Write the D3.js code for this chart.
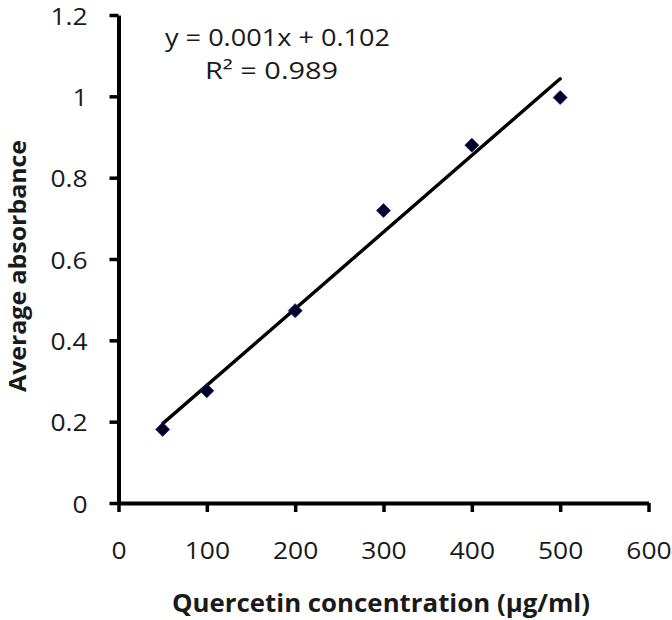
<!DOCTYPE html>
<html><head><meta charset="utf-8">
<script src="https://cdn.jsdelivr.net/npm/d3@7"></script>
<style>html,body{margin:0;padding:0;background:#fff;}svg{display:block;}</style>
</head><body>
<svg id="c" width="672" height="620"></svg>
<script>
const concentrations = [50, 100, 200, 300, 400, 500];
const absorbance = [0.181, 0.276, 0.473, 0.719, 0.880, 0.997];
const xTicks = [0, 100, 200, 300, 400, 500, 600];
const yTicks = [0, 0.2, 0.4, 0.6, 0.8, 1, 1.2];
const xTitle = "Quercetin concentration (µg/ml)";
const yTitle = "Average absorbance";
const eqText = "y = 0.001x + 0.102";
const r2Text = "R² = 0.989";

const font = "'Open Sans', 'DejaVu Sans', sans-serif";
const svg = d3.select("#c");
const x = d3.scaleLinear().domain([0, 600]).range([118.5, 648.5]);
const y = d3.scaleLinear().domain([0, 1.2]).range([503, 15]);

function stretch(sel, factor) {
  sel.each(function () {
    const w = this.getComputedTextLength();
    d3.select(this).attr("textLength", w * factor).attr("lengthAdjust", "spacingAndGlyphs");
  });
}

// axes
const xAxis = d3.axisBottom(x).tickValues(xTicks).tickSize(9).tickSizeOuter(0).tickPadding(30)
  .tickFormat(d3.format("d"));
const yAxis = d3.axisLeft(y).tickValues(yTicks).tickSize(9).tickSizeOuter(0).tickPadding(22)
  .tickFormat(d => d3.format("")(+d.toFixed(1)));

const gx = svg.append("g").attr("transform", `translate(0,${y(0)})`).call(xAxis);
const gy = svg.append("g").attr("transform", `translate(${x(0)},0)`).call(yAxis);
[gx, gy].forEach(g => {
  g.select(".domain").attr("stroke", "#000").attr("stroke-width", 4);
  g.selectAll(".tick line").attr("stroke", "#000").attr("stroke-width", 3.5);
  g.selectAll(".tick text").attr("font-family", font).attr("font-size", 24).attr("fill", "#1a1a1a");
  stretch(g.selectAll(".tick text"), 1.1);
});
gy.selectAll(".tick text").attr("dy", "0.38em");

// trendline (least squares from data)
const mx = d3.mean(concentrations), my = d3.mean(absorbance);
let sxy = 0, sxx = 0;
concentrations.forEach((c, i) => { sxy += (c - mx) * (absorbance[i] - my); sxx += (c - mx) ** 2; });
const slope = sxy / sxx, intercept = my - slope * mx;
const x0 = d3.min(concentrations), x1 = d3.max(concentrations);
svg.append("line")
  .attr("x1", x(x0)).attr("y1", y(intercept + slope * x0))
  .attr("x2", x(x1)).attr("y2", y(intercept + slope * x1))
  .attr("stroke", "#000").attr("stroke-width", 3.4).attr("stroke-linecap", "round");

// markers
const diamond = d3.symbol().type(d3.symbolDiamond2).size(125);
svg.append("g").selectAll("path").data(concentrations).join("path")
  .attr("d", diamond)
  .attr("transform", (d, i) => `translate(${x(d)},${y(absorbance[i])})`)
  .attr("fill", "#000022").attr("stroke", "#1c1c8a").attr("stroke-width", 0.8);

// equation
svg.append("text").attr("x", 277.5).attr("y", 46).attr("text-anchor", "middle")
  .attr("font-family", font).attr("font-size", 23).attr("fill", "#1a1a1a")
  .attr("textLength", 225).attr("lengthAdjust", "spacingAndGlyphs").text(eqText);
svg.append("text").attr("x", 271.5).attr("y", 79).attr("text-anchor", "middle")
  .attr("font-family", font).attr("font-size", 23).attr("fill", "#1a1a1a")
  .attr("textLength", 133).attr("lengthAdjust", "spacingAndGlyphs").text(r2Text);

// titles
svg.append("text").attr("x", 381).attr("y", 612).attr("text-anchor", "middle")
  .attr("font-family", font).attr("font-weight", "bold").attr("font-size", 25).attr("fill", "#1a1a1a")
  .attr("textLength", 418).attr("lengthAdjust", "spacingAndGlyphs").text(xTitle);
svg.append("text").attr("transform", "translate(26,266) rotate(-90)").attr("text-anchor", "middle")
  .attr("font-family", font).attr("font-weight", "bold").attr("font-size", 24).attr("fill", "#1a1a1a")
  .attr("textLength", 252).attr("lengthAdjust", "spacingAndGlyphs").text(yTitle);
</script>
</body></html>
